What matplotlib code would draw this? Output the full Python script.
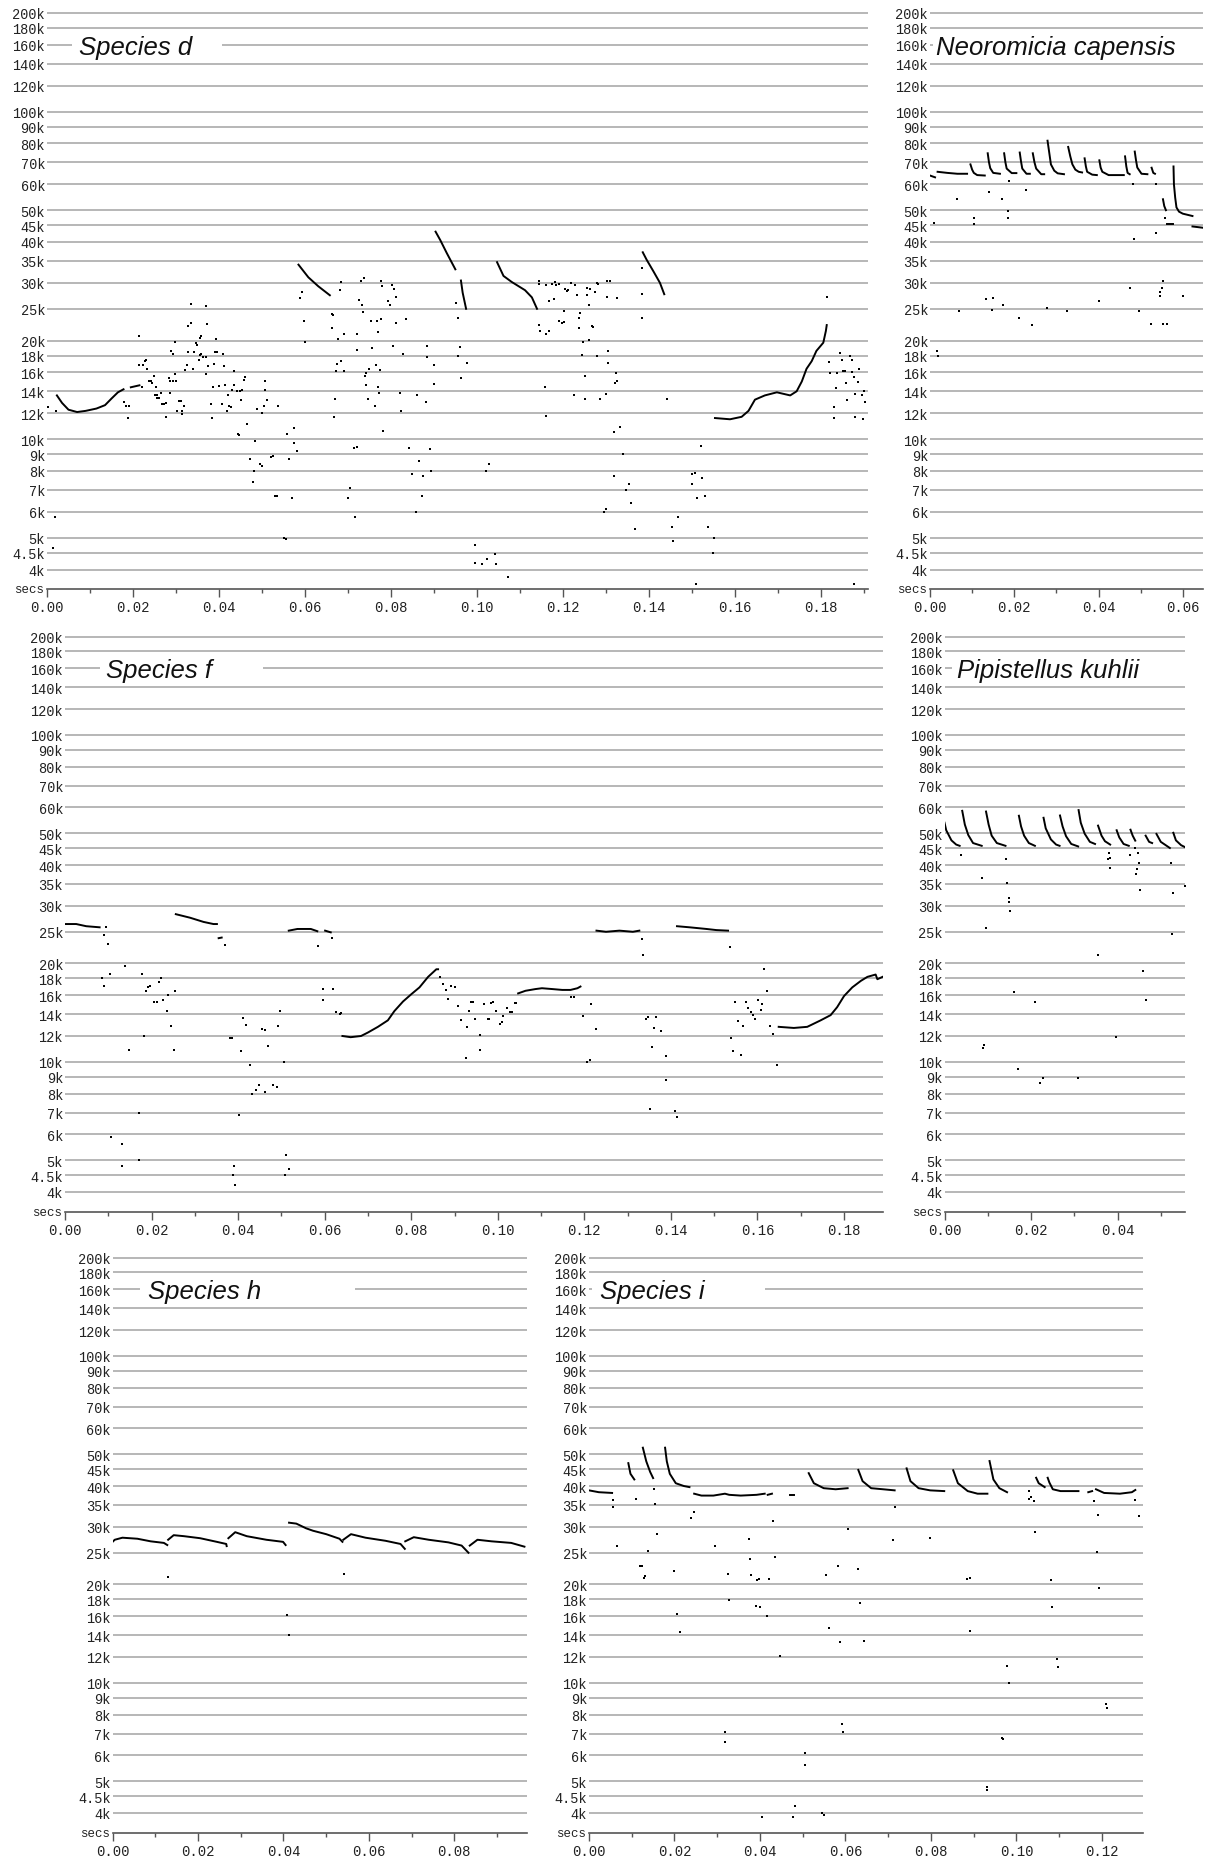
import numpy as np
import matplotlib
matplotlib.use('Agg')
import matplotlib.pyplot as plt
from matplotlib.ticker import FixedLocator, FixedFormatter, MultipleLocator, NullLocator, FormatStrFormatter

plt.rcParams['font.family'] = ['Liberation Mono', 'DejaVu Sans Mono']

# ---------------- tick values ----------------
freq_ticks = [200, 180, 160, 140, 120, 100, 90, 80, 70, 60, 50, 45, 40, 35, 30, 25,
              20, 18, 16, 14, 12, 10, 9, 8, 7, 6, 5, 4.5, 4]
freq_labels = ['200k', '180k', '160k', '140k', '120k', '100k', '90k', '80k', '70k', '60k',
               '50k', '45k', '40k', '35k', '30k', '25k', '20k', '18k', '16k', '14k', '12k',
               '10k', '9k', '8k', '7k', '6k', '5k', '4.5k', '4k']

titles = ['Species d', 'Neoromicia capensis', 'Species f', 'Pipistellus kuhlii', 'Species h', 'Species i']

# ---------------- Species d (time s, freq kHz) ----------------
d_curves = [
    [(0.0023, 13.6), (0.0035, 12.9), (0.0050, 12.3), (0.0070, 12.1), (0.0090, 12.2), (0.0115, 12.4),
     (0.0135, 12.7), (0.0150, 13.3), (0.0165, 13.9), (0.0178, 14.2)],
    [(0.0195, 14.4), (0.0215, 14.6)],
    [(0.0585, 34.1), (0.0608, 31.2), (0.0631, 29.3), (0.0658, 27.5)],
    [(0.0904, 43.0), (0.0915, 40.5), (0.0930, 37.0), (0.0950, 33.0)],
    [(0.0963, 30.5), (0.0967, 28.0), (0.0975, 25.0)],
    [(0.1047, 34.7), (0.1062, 31.5), (0.1081, 30.2), (0.1112, 28.5), (0.1128, 27.1), (0.1140, 25.0)],
    [(0.1386, 37.2), (0.1395, 35.3), (0.1411, 32.5), (0.1426, 30.0), (0.1436, 27.7)],
    [(0.1554, 11.6), (0.1589, 11.5), (0.1616, 11.7), (0.1632, 12.2), (0.1647, 13.2), (0.1670, 13.6),
     (0.1698, 13.9), (0.1729, 13.6), (0.1744, 14.0), (0.1756, 15.0), (0.1767, 16.4), (0.1779, 17.3),
     (0.1790, 18.6), (0.1806, 19.7), (0.1812, 21.4), (0.1814, 22.3)],
]
d_dots = [
    (0.0002, 12.5), (0.0020, 12.2), (0.0018, 5.8), (0.0013, 4.65),
    (0.0178, 13.0), (0.0183, 12.6), (0.0191, 12.6), (0.0188, 11.6), (0.0215, 20.6), (0.0214, 16.9),
    (0.0223, 16.9), (0.0228, 17.3), (0.0231, 17.5), (0.0233, 16.4), (0.0222, 14.4), (0.0238, 15.0),
    (0.0241, 15.0), (0.0245, 14.8), (0.0248, 15.6), (0.0254, 14.4), (0.0252, 13.6), (0.0257, 13.6),
    (0.0265, 13.8), (0.0255, 13.4), (0.0261, 13.4), (0.0268, 12.8), (0.0277, 11.7), (0.0273, 12.8),
    (0.0278, 12.9), (0.0283, 15.4), (0.0285, 13.8), (0.0288, 18.6), (0.0292, 18.2), (0.0287, 15.0),
    (0.0292, 15.0), (0.0300, 15.0), (0.0298, 19.8), (0.0298, 15.8), (0.0303, 12.2), (0.0308, 13.1),
    (0.0311, 13.1), (0.0314, 12.2), (0.0315, 11.9), (0.0319, 12.6), (0.0322, 16.3), (0.0325, 16.8),
    (0.0327, 18.4), (0.0329, 22.2), (0.0334, 25.8), (0.0335, 22.6), (0.0339, 16.4), (0.0342, 18.4),
    (0.0346, 19.6), (0.0348, 19.4), (0.0355, 20.3), (0.0359, 20.6), (0.0355, 18.1), (0.0359, 18.2),
    (0.0354, 17.5), (0.0363, 17.8), (0.0369, 17.8), (0.0371, 25.5), (0.0373, 22.4), (0.0369, 15.8),
    (0.0375, 16.7), (0.0381, 12.8), (0.0385, 11.6), (0.0386, 14.4), (0.0388, 17.0), (0.0392, 18.5),
    (0.0396, 18.4), (0.0394, 20.2), (0.0400, 14.5), (0.0406, 12.8), (0.0409, 18.2), (0.0411, 16.7),
    (0.0415, 14.6), (0.0419, 12.2), (0.0423, 12.6), (0.0427, 12.5), (0.0421, 13.6), (0.0431, 14.1),
    (0.0435, 16.2), (0.0436, 14.6), (0.0442, 14.0), (0.0445, 10.4), (0.0446, 10.3), (0.0449, 14.0),
    (0.0454, 14.1), (0.0451, 13.2), (0.0458, 15.2), (0.0460, 15.5), (0.0465, 11.1), (0.0473, 8.7),
    (0.0479, 7.4), (0.0481, 8.0), (0.0484, 9.9), (0.0488, 12.4), (0.0496, 8.4), (0.0500, 8.3),
    (0.0500, 12.0), (0.0504, 12.6), (0.0508, 15.0), (0.0508, 14.1), (0.0511, 13.2), (0.0521, 8.8),
    (0.0525, 8.9), (0.0531, 6.7), (0.0535, 6.7), (0.0538, 12.6), (0.0552, 5.0), (0.0555, 4.95),
    (0.0558, 10.4), (0.0562, 8.7), (0.0569, 6.6), (0.0575, 10.8), (0.0574, 9.7), (0.0582, 9.2),
    (0.0588, 26.9), (0.0594, 28.2), (0.0598, 22.9), (0.0600, 19.8), (0.0664, 24.1), (0.0666, 24.0),
    (0.0664, 21.9), (0.0682, 28.6), (0.0685, 30.1), (0.0677, 20.2), (0.0675, 17.0), (0.0684, 17.3),
    (0.0673, 16.2), (0.0690, 16.2), (0.0671, 13.3), (0.0668, 11.7), (0.0692, 21.0), (0.0725, 26.6),
    (0.0731, 30.5), (0.0738, 31.0), (0.0733, 25.6), (0.0735, 24.5), (0.0721, 20.9), (0.0721, 18.7),
    (0.0715, 9.4), (0.0721, 9.45), (0.0704, 7.1), (0.0700, 6.6), (0.0717, 5.8), (0.0739, 15.6),
    (0.0742, 15.9), (0.0742, 14.6), (0.0746, 13.3), (0.0750, 16.4), (0.0754, 23.0), (0.0756, 19.0),
    (0.0762, 12.6), (0.0765, 16.9), (0.0769, 21.3), (0.0771, 14.4), (0.0773, 13.8), (0.0777, 30.3),
    (0.0780, 29.4), (0.0767, 23.0), (0.0777, 23.2), (0.0775, 16.3), (0.0781, 10.6), (0.0794, 26.5),
    (0.0798, 25.6), (0.0803, 29.5), (0.0807, 28.8), (0.0806, 19.3), (0.0812, 22.6), (0.0813, 27.2),
    (0.0821, 13.8), (0.0824, 12.2), (0.0829, 18.2), (0.0835, 23.3), (0.0842, 9.4), (0.0850, 7.8),
    (0.0860, 13.6), (0.0865, 8.6), (0.0875, 7.7), (0.0873, 6.7), (0.0858, 6.0), (0.0881, 13.0),
    (0.0883, 17.8), (0.0885, 19.2), (0.0892, 9.3), (0.0894, 8.0), (0.0900, 16.9), (0.0900, 14.7),
    (0.0952, 26.1), (0.0957, 23.5), (0.0961, 19.1), (0.0957, 18.0), (0.0963, 15.4), (0.0977, 17.1),
    (0.0995, 4.74), (0.0995, 4.2), (0.1012, 4.17), (0.1023, 4.3), (0.1043, 4.45), (0.1045, 4.17),
    (0.1072, 3.8), (0.1022, 8.0), (0.1029, 8.4),
    (0.1145, 22.3), (0.1148, 21.4), (0.1161, 21.0), (0.1167, 21.4), (0.1169, 26.5), (0.1180, 26.8),
    (0.1145, 30.5), (0.1145, 29.8), (0.1162, 29.6), (0.1174, 29.8), (0.1181, 30.2), (0.1185, 29.6),
    (0.1191, 29.8), (0.1205, 28.8), (0.1209, 28.3), (0.1212, 28.5), (0.1220, 30.0), (0.1228, 29.6),
    (0.1232, 27.6), (0.1256, 29.0), (0.1264, 28.8), (0.1275, 28.2), (0.1279, 30.0), (0.1283, 29.8),
    (0.1302, 30.5), (0.1310, 30.5), (0.1302, 27.1), (0.1326, 26.9),
    (0.1190, 23.0), (0.1198, 22.6), (0.1202, 22.8), (0.1203, 24.6), (0.1239, 24.3), (0.1237, 21.9),
    (0.1237, 23.5), (0.1256, 27.5), (0.1260, 25.7), (0.1267, 22.2), (0.1271, 22.0), (0.1246, 19.8),
    (0.1244, 18.1), (0.1252, 15.6), (0.1262, 20.1), (0.1279, 18.0), (0.1306, 18.6), (0.1306, 17.1),
    (0.1324, 15.9), (0.1322, 14.8), (0.1326, 15.0), (0.1225, 13.6), (0.1252, 13.3), (0.1287, 13.3),
    (0.1301, 13.7), (0.1159, 14.4), (0.1161, 11.8), (0.1318, 10.5), (0.1333, 10.9), (0.1341, 9.0),
    (0.1319, 7.7), (0.1347, 7.0), (0.1354, 7.3), (0.1359, 6.4), (0.1295, 6.0), (0.1300, 6.1),
    (0.1369, 5.3),
    (0.1384, 33.2), (0.1384, 27.7), (0.1385, 23.5), (0.1442, 13.3),
    (0.1455, 5.4), (0.1457, 4.9), (0.1467, 5.8), (0.1511, 3.6), (0.1500, 7.8), (0.1501, 7.3),
    (0.1508, 7.9), (0.1513, 6.6), (0.1522, 9.5), (0.1523, 7.6), (0.1531, 6.7), (0.1537, 5.4),
    (0.1552, 5.0), (0.1550, 4.5),
    (0.1814, 27.1), (0.1820, 17.2), (0.1822, 15.9), (0.1830, 12.5), (0.1832, 11.6), (0.1836, 14.3),
    (0.1837, 15.9), (0.1845, 18.3), (0.1849, 17.5), (0.1853, 16.1), (0.1857, 16.2), (0.1859, 14.8),
    (0.1862, 13.2), (0.1868, 18.0), (0.1872, 17.5), (0.1872, 16.0), (0.1877, 15.5), (0.1880, 13.7),
    (0.1879, 11.7), (0.1887, 14.9), (0.1888, 16.4), (0.1895, 13.6), (0.1898, 11.5), (0.1900, 14.0),
    (0.1904, 13.0), (0.1877, 3.6),
]

# ---------------- Neoromicia capensis ----------------
n_curves = [
    [(0.0000, 63.8), (0.0012, 63.0)],
    [(0.0018, 65.5), (0.0041, 65.0), (0.0065, 64.6), (0.0088, 64.6)],
    [(0.0096, 69.0), (0.0100, 66.5), (0.0104, 65.0), (0.0112, 64.0), (0.0130, 63.8)],
    [(0.0137, 74.6), (0.0140, 70.0), (0.0143, 67.2), (0.0150, 65.0), (0.0166, 64.6)],
    [(0.0176, 74.6), (0.0179, 70.0), (0.0182, 67.0), (0.0194, 64.9), (0.0205, 64.9)],
    [(0.0213, 75.0), (0.0216, 70.5), (0.0219, 67.0), (0.0229, 64.6), (0.0237, 64.6)],
    [(0.0244, 74.6), (0.0248, 70.0), (0.0252, 67.0), (0.0264, 64.4), (0.0271, 64.4)],
    [(0.0279, 81.5), (0.0283, 75.0), (0.0287, 69.0), (0.0295, 66.0), (0.0303, 64.8), (0.0318, 64.4)],
    [(0.0328, 78.0), (0.0333, 73.0), (0.0338, 69.0), (0.0345, 66.5), (0.0353, 65.5), (0.0361, 65.2)],
    [(0.0367, 72.0), (0.0370, 68.0), (0.0373, 65.5), (0.0385, 64.2), (0.0396, 64.0)],
    [(0.0402, 71.0), (0.0405, 67.5), (0.0409, 65.5), (0.0424, 64.0), (0.0440, 64.0), (0.0460, 64.0)],
    [(0.0463, 73.0), (0.0466, 68.0), (0.0469, 65.0), (0.0474, 64.4)],
    [(0.0486, 75.5), (0.0489, 71.0), (0.0492, 67.5), (0.0502, 64.6), (0.0516, 64.4)],
    [(0.0526, 67.4), (0.0530, 65.0), (0.0534, 64.6)],
    [(0.0553, 54.0), (0.0556, 51.5), (0.0560, 50.0)],
    [(0.0563, 45.5), (0.0576, 45.5)],
    [(0.0578, 68.0), (0.0579, 60.0), (0.0582, 54.6), (0.0585, 51.0), (0.0591, 49.5), (0.0600, 48.8),
     (0.0623, 48.0)],
    [(0.0623, 44.6), (0.0648, 44.2)],
]
n_dots = [
    (0.0009, 45.6), (0.0016, 18.6), (0.0019, 18.0), (0.0065, 54.1), (0.0069, 24.6), (0.0104, 47.5),
    (0.0104, 45.5), (0.0141, 56.7), (0.0133, 26.8), (0.0149, 27.0), (0.0147, 24.8), (0.0174, 25.7),
    (0.0172, 54.0), (0.0188, 61.2), (0.0186, 49.6), (0.0186, 47.5), (0.0211, 23.5), (0.0227, 57.5),
    (0.0242, 22.3), (0.0277, 25.2), (0.0324, 24.6), (0.0400, 26.4), (0.0474, 29.0), (0.0482, 60.0),
    (0.0484, 40.7), (0.0496, 24.6), (0.0525, 22.5), (0.0537, 60.3), (0.0537, 42.6), (0.0545, 28.2),
    (0.0547, 27.3), (0.0552, 30.3), (0.0550, 29.0), (0.0552, 22.5), (0.0563, 22.4), (0.0558, 47.4),
    (0.0601, 27.4),
]

# ---------------- Species f ----------------
f_curves = [
    [(0.0000, 26.4), (0.0026, 26.4), (0.0049, 26.0), (0.0080, 25.8)],
    [(0.0256, 28.3), (0.0289, 27.6), (0.0320, 26.8), (0.0343, 26.4), (0.0351, 26.4)],
    [(0.0355, 23.9), (0.0362, 24.0)],
    [(0.0517, 25.2), (0.0537, 25.5), (0.0568, 25.5), (0.0583, 25.1)],
    [(0.0601, 25.2), (0.0614, 24.9)],
    [(0.0641, 12.0), (0.0660, 11.9), (0.0684, 12.0), (0.0700, 12.3), (0.0723, 12.8), (0.0746, 13.4),
     (0.0761, 14.3), (0.0781, 15.3), (0.0800, 16.1), (0.0819, 16.9), (0.0839, 18.2), (0.0858, 19.2),
     (0.0862, 19.2)],
    [(0.1047, 16.2), (0.1064, 16.5), (0.1087, 16.7), (0.1102, 16.8), (0.1126, 16.7), (0.1149, 16.6),
     (0.1168, 16.6), (0.1184, 16.8), (0.1191, 17.0)],
    [(0.1228, 25.2), (0.1250, 25.0), (0.1281, 25.2), (0.1312, 25.0), (0.1327, 25.2)],
    [(0.1414, 26.0), (0.1443, 25.8), (0.1482, 25.5), (0.1505, 25.3), (0.1532, 25.2)],
    [(0.1649, 12.8), (0.1684, 12.7), (0.1715, 12.8), (0.1746, 13.4), (0.1769, 13.9), (0.1784, 14.7),
     (0.1800, 15.9), (0.1819, 16.9), (0.1839, 17.7), (0.1854, 18.2), (0.1873, 18.5), (0.1877, 17.9),
     (0.1889, 18.2)],
]
f_dots = [
    (0.0094, 25.9), (0.0090, 24.4), (0.0099, 23.0), (0.0086, 18.0), (0.0089, 17.1), (0.0105, 18.6),
    (0.0107, 5.9), (0.0132, 5.6), (0.0132, 4.8), (0.0139, 19.7), (0.0149, 10.9), (0.0171, 7.0),
    (0.0171, 5.0), (0.0179, 18.6), (0.0183, 12.0), (0.0188, 16.5), (0.0192, 16.9), (0.0197, 17.1),
    (0.0206, 15.3), (0.0212, 15.3), (0.0217, 17.6), (0.0221, 18.1), (0.0227, 15.5), (0.0235, 14.3),
    (0.0239, 16.0), (0.0246, 12.9), (0.0254, 16.5), (0.0252, 10.9),
    (0.0369, 22.8), (0.0382, 11.8), (0.0386, 11.8), (0.0390, 4.8), (0.0388, 4.5), (0.0393, 4.2),
    (0.0401, 6.9), (0.0407, 10.8), (0.0411, 13.6), (0.0419, 13.0), (0.0428, 9.8), (0.0432, 8.0),
    (0.0442, 8.2), (0.0449, 8.5), (0.0455, 12.6), (0.0462, 12.5), (0.0463, 8.1), (0.0469, 11.2),
    (0.0481, 8.5), (0.0489, 8.4), (0.0492, 12.9), (0.0496, 14.3), (0.0506, 10.0), (0.0508, 4.5),
    (0.0511, 5.2), (0.0517, 4.7),
    (0.0585, 22.6), (0.0616, 23.9), (0.0595, 16.7), (0.0595, 15.5), (0.0620, 16.7), (0.0626, 14.2),
    (0.0635, 14.0), (0.0638, 14.1),
    (0.0866, 18.2), (0.0874, 17.3), (0.0880, 16.6), (0.0885, 15.6), (0.0893, 17.1), (0.0902, 16.9),
    (0.0909, 14.8), (0.0915, 13.4), (0.0928, 12.8), (0.0926, 10.3), (0.0934, 14.3), (0.0939, 15.2),
    (0.0943, 15.2), (0.0947, 13.5), (0.0959, 12.1), (0.0959, 10.9), (0.0969, 15.0), (0.0977, 13.5),
    (0.0980, 13.5), (0.0985, 15.1), (0.0990, 15.3), (0.0995, 14.3), (0.1005, 13.1), (0.1009, 13.2),
    (0.1013, 13.8), (0.1021, 14.6), (0.1029, 14.2), (0.1033, 14.2), (0.1039, 15.1), (0.1042, 15.1),
    (0.1170, 15.8), (0.1175, 15.8), (0.1197, 13.8), (0.1205, 10.0), (0.1213, 10.1), (0.1216, 15.0),
    (0.1226, 12.6),
    (0.1333, 23.7), (0.1336, 21.3), (0.1343, 13.5), (0.1346, 13.7), (0.1366, 13.7), (0.1351, 7.2),
    (0.1357, 11.1), (0.1362, 12.7), (0.1377, 12.4), (0.1389, 10.4), (0.1388, 8.8), (0.1409, 7.1),
    (0.1414, 6.8),
    (0.1536, 22.5), (0.1539, 11.8), (0.1544, 10.8), (0.1549, 15.3), (0.1556, 13.3), (0.1563, 10.5),
    (0.1567, 12.9), (0.1573, 15.2), (0.1579, 14.6), (0.1584, 14.2), (0.1590, 13.9), (0.1594, 13.5),
    (0.1602, 15.5), (0.1607, 14.4), (0.1611, 15.0), (0.1616, 19.2), (0.1622, 16.5), (0.1630, 12.9),
    (0.1635, 12.2), (0.1646, 9.8),
]

# ---------------- Pipistellus kuhlii ----------------
p_curves = [
    [(0.0000, 53.9), (0.0004, 51.1), (0.0016, 47.6), (0.0027, 46.2), (0.0035, 45.8)],
    [(0.0041, 58.6), (0.0047, 53.2), (0.0055, 49.4), (0.0066, 46.7), (0.0086, 45.8)],
    [(0.0096, 58.3), (0.0102, 53.2), (0.0109, 49.2), (0.0121, 46.7), (0.0141, 45.8)],
    [(0.0172, 56.6), (0.0177, 52.5), (0.0184, 49.2), (0.0195, 46.7), (0.0209, 45.8)],
    [(0.0229, 55.8), (0.0234, 51.8), (0.0246, 47.9), (0.0258, 46.2), (0.0266, 45.8)],
    [(0.0267, 56.7), (0.0273, 52.5), (0.0281, 49.0), (0.0293, 46.4), (0.0309, 45.6)],
    [(0.0310, 58.9), (0.0315, 53.9), (0.0324, 49.9), (0.0336, 47.1), (0.0348, 46.4)],
    [(0.0355, 52.8), (0.0363, 49.2), (0.0371, 47.3), (0.0383, 46.2)],
    [(0.0398, 51.1), (0.0404, 48.6), (0.0414, 46.4), (0.0426, 45.8)],
    [(0.0430, 51.3), (0.0435, 49.2), (0.0441, 47.5)],
    [(0.0465, 49.2), (0.0473, 47.1), (0.0480, 46.7)],
    [(0.0490, 49.8), (0.0500, 47.1), (0.0521, 45.1)],
    [(0.0529, 50.2), (0.0535, 47.6), (0.0547, 46.0), (0.0560, 45.1)],
]
p_dots = [
    (0.0037, 43.0), (0.0087, 36.4), (0.0096, 25.6), (0.0090, 11.0), (0.0092, 11.3), (0.0142, 41.7),
    (0.0144, 35.3), (0.0148, 31.8), (0.0149, 30.8), (0.0152, 29.0), (0.0160, 16.4), (0.0169, 9.5),
    (0.0209, 15.3), (0.0220, 8.6), (0.0228, 8.9), (0.0309, 8.9), (0.0354, 21.3), (0.0377, 41.7),
    (0.0380, 43.5), (0.0382, 42.0), (0.0383, 39.2), (0.0396, 11.9), (0.0430, 42.8), (0.0441, 45.0),
    (0.0443, 37.6), (0.0446, 39.0), (0.0447, 43.6), (0.0449, 40.7), (0.0451, 33.6), (0.0458, 18.9),
    (0.0465, 15.5), (0.0523, 40.6), (0.0529, 32.9), (0.0526, 24.6), (0.0556, 34.5),
]

# ---------------- Species h ----------------
h_curves = [
    [(0.0000, 27.0), (0.0005, 27.4), (0.0023, 27.8), (0.0058, 27.6), (0.0089, 27.1), (0.0120, 26.8),
     (0.0128, 26.4)],
    [(0.0130, 27.4), (0.0143, 28.3), (0.0167, 28.1), (0.0205, 27.7), (0.0244, 27.0), (0.0266, 26.6),
     (0.0267, 26.2)],
    [(0.0271, 27.7), (0.0287, 28.9), (0.0314, 28.1), (0.0360, 27.4), (0.0399, 27.0), (0.0405, 26.4)],
    [(0.0413, 30.9), (0.0430, 30.7), (0.0453, 29.7), (0.0469, 29.2), (0.0500, 28.5), (0.0531, 27.6),
     (0.0538, 27.0)],
    [(0.0540, 27.4), (0.0558, 28.5), (0.0592, 27.8), (0.0639, 27.2), (0.0674, 26.6), (0.0684, 25.7)],
    [(0.0685, 27.1), (0.0705, 27.9), (0.0740, 27.4), (0.0786, 26.9), (0.0817, 26.3), (0.0833, 25.0)],
    [(0.0836, 26.3), (0.0854, 27.4), (0.0887, 27.1), (0.0933, 26.8), (0.0964, 26.1)],
]
h_dots = [(0.0130, 21.1), (0.0542, 21.5), (0.0409, 16.1), (0.0412, 14.0)]

# ---------------- Species i ----------------
i_curves = [
    [(0.0000, 38.8), (0.0023, 38.3), (0.0054, 38.1)],
    [(0.0092, 47.0), (0.0097, 43.6), (0.0106, 41.9)],
    [(0.0126, 52.4), (0.0134, 47.6), (0.0143, 44.2), (0.0150, 42.3)],
    [(0.0178, 52.4), (0.0182, 47.6), (0.0189, 43.6), (0.0203, 40.8), (0.0222, 40.0), (0.0235, 39.7)],
    [(0.0246, 37.9), (0.0263, 37.4), (0.0291, 37.4), (0.0318, 37.9), (0.0328, 37.6), (0.0355, 37.4),
     (0.0392, 37.6), (0.0411, 37.9)],
    [(0.0418, 37.6), (0.0428, 37.9)],
    [(0.0470, 37.6), (0.0479, 37.6)],
    [(0.0514, 43.8), (0.0526, 40.8), (0.0549, 39.4), (0.0577, 39.1), (0.0605, 39.4)],
    [(0.0630, 44.8), (0.0640, 41.4), (0.0660, 39.4), (0.0688, 39.1), (0.0715, 38.8)],
    [(0.0743, 45.3), (0.0752, 41.4), (0.0771, 39.4), (0.0798, 38.8), (0.0831, 38.6)],
    [(0.0852, 44.7), (0.0863, 40.8), (0.0886, 38.6), (0.0909, 37.9), (0.0932, 37.9)],
    [(0.0937, 47.7), (0.0946, 41.9), (0.0960, 39.4), (0.0978, 38.3)],
    [(0.1046, 42.4), (0.1052, 40.8), (0.1066, 39.7)],
    [(0.1073, 42.4), (0.1077, 41.0), (0.1085, 39.1), (0.1103, 38.6), (0.1145, 38.6)],
    [(0.1168, 38.3), (0.1177, 38.6)],
    [(0.1186, 39.1), (0.1205, 38.1), (0.1242, 37.9), (0.1270, 38.3), (0.1278, 38.9)],
]
i_dots = [
    (0.0055, 36.3), (0.0055, 34.6), (0.0065, 26.2), (0.0109, 36.4), (0.0152, 39.1), (0.0154, 35.2),
    (0.0120, 22.8), (0.0125, 22.8), (0.0137, 25.3), (0.0129, 21.0), (0.0131, 21.2), (0.0159, 28.5),
    (0.0198, 22.0), (0.0205, 16.2), (0.0212, 14.3), (0.0238, 31.9), (0.0245, 33.2), (0.0295, 26.2),
    (0.0325, 21.5), (0.0328, 17.9), (0.0317, 7.1), (0.0317, 6.6), (0.0374, 27.5), (0.0377, 23.9),
    (0.0378, 21.4), (0.0392, 20.7), (0.0397, 20.8), (0.0390, 17.2), (0.0401, 17.1), (0.0417, 16.0),
    (0.0404, 3.9), (0.0422, 20.8), (0.0431, 31.2), (0.0434, 24.2), (0.0446, 12.1), (0.0477, 3.9),
    (0.0482, 4.2), (0.0505, 6.1), (0.0505, 5.6), (0.0546, 4.0), (0.0549, 3.95), (0.0554, 21.4),
    (0.0561, 14.7), (0.0582, 22.7), (0.0588, 13.3), (0.0591, 7.5), (0.0594, 7.1), (0.0606, 29.6),
    (0.0630, 22.3), (0.0634, 17.5), (0.0643, 13.4), (0.0711, 27.4), (0.0717, 34.6), (0.0798, 27.7),
    (0.0884, 20.8), (0.0891, 21.0), (0.0891, 14.4), (0.0932, 4.8), (0.0932, 4.7), (0.0965, 6.8),
    (0.0968, 6.75), (0.0977, 11.3), (0.0983, 10.0), (0.1029, 38.6), (0.1034, 37.1), (0.1029, 36.6),
    (0.1040, 36.0), (0.1043, 29.0), (0.1080, 20.6), (0.1083, 17.1), (0.1094, 11.8), (0.1098, 11.2),
    (0.1181, 36.1), (0.1191, 32.7), (0.1188, 25.2), (0.1193, 19.5), (0.1209, 8.6), (0.1211, 8.4),
    (0.1277, 36.3), (0.1286, 32.4), (0.1304, 32.8),
]

# ---------------- layout (pixel geometry of the reference) ----------------
W, H, DPI = 1210, 1858, 100
layout = [
    # x0, x1, y200, y4, yaxis, xmax, title_x, gap_a, gap_b
    (47, 868, 14, 570.5, 590, 0.191, 79, 72, 222),
    (930, 1203, 14, 570.5, 590, 0.0648, 936, 933, 1203),
    (65, 883, 637.5, 1193, 1213, 0.189, 106, 100, 263),
    (944.5, 1185, 637.5, 1193, 1213, 0.0556, 957, 952, 1185),
    (112.6, 527, 1258.5, 1814, 1834, 0.097, 148, 140, 355),
    (589, 1143, 1258.5, 1814, 1834, 0.1296, 600, 592, 765),
]
curve_sets = [d_curves, n_curves, f_curves, p_curves, h_curves, i_curves]
dot_sets = [d_dots, n_dots, f_dots, p_dots, h_dots, i_dots]

fig = plt.figure(figsize=(W / DPI, H / DPI), dpi=DPI, facecolor='white')

for (x0, x1, y200, y4, yax, xmax, tx, ga, gb), title, curves, dots in zip(layout, titles, curve_sets, dot_sets):
    ppl = (y4 - y200) / np.log(50)
    top_px = y200 - 7
    fmax = 200 * np.exp(7 / ppl)
    fmin = 4 * np.exp(-(yax - y4) / ppl)
    ax = fig.add_axes([x0 / W, 1 - yax / H, (x1 - x0) / W, (yax - top_px) / H])
    ax.set_yscale('log')
    ax.set_ylim(fmin, fmax)
    ax.set_xlim(0, xmax)
    ax.set_facecolor('white')

    def t_of(px):
        return (px - x0) / (x1 - x0) * xmax

    ax.yaxis.set_major_locator(FixedLocator(freq_ticks))
    ax.yaxis.set_major_formatter(FixedFormatter(freq_labels))
    ax.yaxis.set_minor_locator(NullLocator())
    ax.tick_params(axis='y', length=0, pad=1.5, labelsize=9.8, labelcolor='#222222')
    ax.grid(axis='y', which='major', color='#a3a3a3', lw=1.1)
    ax.set_axisbelow(True)

    ax.xaxis.set_major_locator(MultipleLocator(0.02))
    ax.xaxis.set_minor_locator(MultipleLocator(0.01))
    ax.xaxis.set_major_formatter(FormatStrFormatter('%.2f'))
    ax.tick_params(axis='x', which='major', length=6, width=1.0, color='#555555', direction='out',
                   pad=2, labelsize=10, labelcolor='#222222')
    ax.tick_params(axis='x', which='minor', length=3, width=1.0, color='#555555', direction='out')

    for s in ('top', 'left', 'right'):
        ax.spines[s].set_visible(False)
    ax.spines['bottom'].set_color('#555555')
    ax.spines['bottom'].set_linewidth(1.2)

    # break in the 160k grid line behind the title
    ax.plot([t_of(ga), t_of(gb)], [160, 160], color='white', lw=3.0, solid_capstyle='butt', zorder=1.5)
    ax.annotate(title, xy=(t_of(tx), 160), xytext=(0, -6.6), textcoords='offset points',
                ha='left', va='baseline', fontsize=18.5, fontstyle='italic',
                family=['Liberation Sans', 'DejaVu Sans'], color='#111111', zorder=4)

    ax.annotate('secs', xy=(0, 0), xycoords='axes fraction', xytext=(-2, 0), textcoords='offset points',
                ha='right', va='center', fontsize=9.0, color='#222222')

    for c in curves:
        ct, cf = zip(*c)
        ax.plot(ct, cf, color='black', lw=1.4, solid_joinstyle='round', zorder=3)
    dt, dfq = zip(*dots)
    ax.plot(dt, dfq, 's', ms=1.8, mew=0, color='black', zorder=3)

fig.savefig('out.png', dpi=DPI, facecolor='white')
